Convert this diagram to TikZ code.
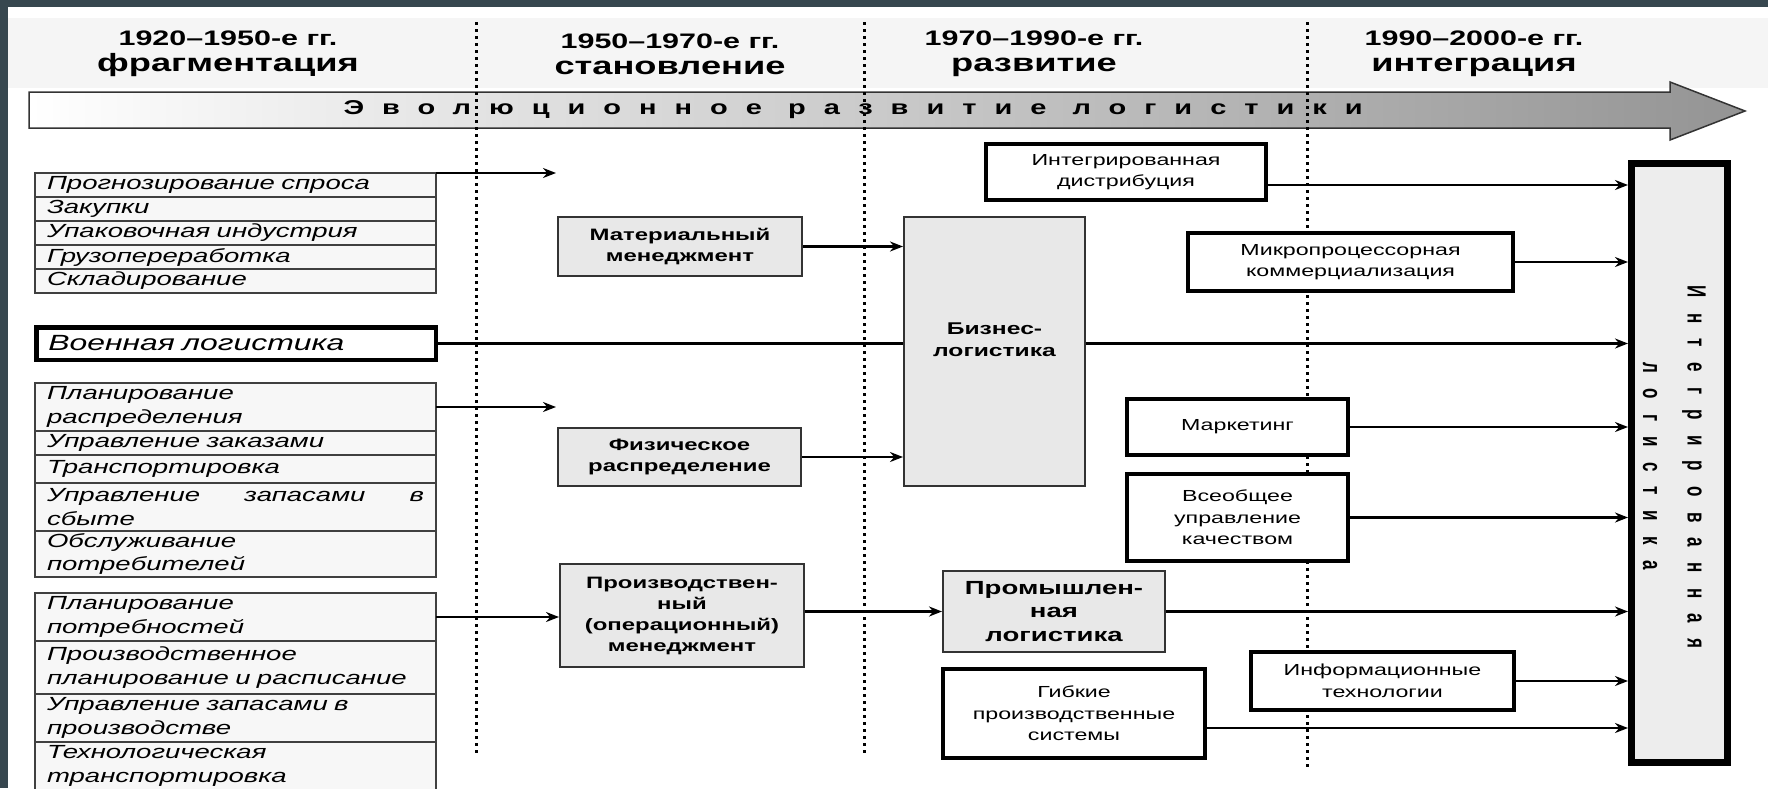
\documentclass[tikz,border=0pt]{standalone}
\usepackage{fontspec}
\setmainfont{Liberation Sans}[FakeStretch=1.45]
\newfontfamily\barfont{Liberation Sans}[FakeStretch=1.45,LetterSpace=90]
\newfontfamily\ilfont{Liberation Sans}[LetterSpace=90]
\usetikzlibrary{positioning,arrows,arrows.meta}
\definecolor{framecol}{HTML}{37474F}

\begin{document}
\begin{tikzpicture}[x=1pt,y=-1pt]
    \tikzstyle{head} = [align=center, font=\fontsize{21}{26}\selectfont\bfseries]
    \tikzstyle{row} = [rectangle, draw=black!75, fill=black!3, line width=1.5pt, outer sep=0pt, text width=377pt, inner xsep=12pt, inner ysep=0pt, minimum height=24pt, align=left, font=\fontsize{19}{23.5}\selectfont\itshape]
    \tikzstyle{gbox} = [rectangle, draw=black!80, fill=black!9, line width=2pt, align=center, font=\fontsize{16.5}{21}\selectfont\bfseries]
    \tikzstyle{wbox} = [rectangle, draw, line width=4pt, fill=white, align=center, font=\fontsize{16}{21.5}\selectfont]
    \tikzstyle{arrow} = [line width=2.5pt, ->, >={Stealth[length=13pt,width=10pt]}]
    \tikzstyle{dots} = [line width=3pt, dash pattern=on 3pt off 4pt]
    \tikzstyle{iltext} = [rotate=-90, font=\ilfont\fontsize{17}{20}\selectfont\bfseries]
    \useasboundingbox (0,0) rectangle (1768,788);
    \fill[white] (0,0) rectangle (1768,788);
    \fill[black!4] (8,18) rectangle (1768,88);
    \fill[framecol] (0,0) rectangle (1768,7);
    \fill[framecol] (0,0) rectangle (8,788);
    % time line
    \shadedraw[left color=white, right color=black!42, draw=black!80, line width=1.5pt] (29,92) -- (1670,92) -- (1670,82) -- (1745,111) -- (1670,140) -- (1670,128) -- (29,128) -- cycle;
    \node (bt) [anchor=west, font=\barfont\fontsize{20}{22}\selectfont\bfseries] at (340,110) {Эволюционное развитие логистики};
    \node (h1) [head] at (228,54) {1920–1950-е гг.\\{\fontsize{25}{26}\selectfont фрагментация}};
    \node (h2) [head] at (670,54) {1950–1970-е гг.\\{\fontsize{25}{26}\selectfont становление}};
    \node (h3) [head] at (1034,54) {1970–1990-е гг.\\{\fontsize{25}{26}\selectfont развитие}};
    \node (h4) [head] at (1474,54) {1990–2000-е гг.\\{\fontsize{25}{26}\selectfont интеграция}};
    \draw[dots] (476,22) -- (476,755);
    \draw[dots] (864,22) -- (864,755);
    \draw[dots] (1307,22) -- (1307,770);
    % left column
    \node (r1) [row, anchor=north west] at (35,173) {Прогнозирование спроса};
    \node (r2) [row, below=0pt of r1] {Закупки};
    \node (r3) [row, below=0pt of r2] {Упаковочная индустрия};
    \node (r4) [row, below=0pt of r3] {Грузопереработка};
    \node (r5) [row, below=0pt of r4] {Складирование};
    \node (vl) [rectangle, draw, line width=4.5pt, fill=white, text width=375.5pt, inner xsep=12pt, inner ysep=0pt, minimum height=32.5pt, align=left, font=\fontsize{22}{26}\selectfont\itshape] at (236,343.5) {Военная логистика};
    \node (p1) [row, minimum height=48pt, anchor=north west] at (35,383) {Планирование\\распределения};
    \node (p2) [row, below=0pt of p1] {Управление заказами};
    \node (p3) [row, minimum height=28pt, below=0pt of p2] {Транспортировка};
    \node (p4) [row, minimum height=48pt, below=0pt of p3] {Управление\hfill запасами\hfill в\\сбыте};
    \node (p5) [row, minimum height=46pt, below=0pt of p4] {Обслуживание\\потребителей};
    \node (q1) [row, minimum height=48pt, anchor=north west] at (35,593) {Планирование\\потребностей};
    \node (q2) [row, minimum height=53pt, below=0pt of q1] {Производственное\\планирование и расписание};
    \node (q3) [row, minimum height=48pt, below=0pt of q2] {Управление запасами в\\производстве};
    \node (q4) [row, minimum height=48pt, below=0pt of q3] {Технологическая\\транспортировка};
    % middle
    \node (mm) [gbox, minimum width=244pt, minimum height=59pt] at (680,246.5) {Материальный\\менеджмент};
    \node (fr) [gbox, minimum width=243pt, minimum height=58pt] at (679.5,457) {Физическое\\распределение};
    \node (pm) [gbox, minimum width=244pt, minimum height=103pt] at (682,615.5) {Производствен-\\ный\\(операционный)\\менеджмент};
    \node (bl) [gbox, minimum width=181pt, minimum height=269pt] at (994.5,351.5) {};
    \node (blt) [align=center, font=\fontsize{17}{22}\selectfont\bfseries] at ([yshift=12pt]bl.center) {Бизнес-\\логистика};
    \node (pl) [gbox, minimum width=222pt, minimum height=81pt, font=\fontsize{19}{23.5}\selectfont\bfseries] at (1054,611.5) {Промышлен-\\ная\\логистика};
    % right
    \node (id) [wbox, minimum width=280pt, minimum height=56pt] at (1126,172) {Интегрированная\\дистрибуция};
    \node (mp) [wbox, minimum width=325pt, minimum height=58pt] at (1350.5,262) {Микропроцессорная\\коммерциализация};
    \node (mk) [wbox, minimum width=221pt, minimum height=56pt] at (1237.5,427) {Маркетинг};
    \node (tq) [wbox, minimum width=221pt, minimum height=87pt, below=15pt of mk] {Всеобщее\\управление\\качеством};
    \node (it) [wbox, minimum width=263pt, minimum height=58pt] at (1382.5,681) {Информационные\\технологии};
    \node (fs) [wbox, minimum width=262pt, minimum height=89pt] at (1074,713.5) {Гибкие\\производственные\\системы};
    \node (il) [rectangle, draw, line width=7pt, fill=black!7, minimum width=96pt, minimum height=599pt] at (1679.5,463) {};
    \node (ilt1) [iltext] at (1694,467) {\scalebox{1}[1.55]{Интегрированная}};
    \node (ilt2) [iltext] at (1650,466) {\scalebox{1}[1.55]{логистика}};
    % connectors
    \coordinate (e1) at (556,173);
    \coordinate (e2) at (556,407);
    \draw[arrow] (r1.north east) -- (e1);
    \draw[arrow] (p1.east) -- (e2);
    \draw[arrow] (q1.east) -- (q1.east -| pm.west);
    \draw[arrow] (mm.east) -- (mm.east -| bl.west);
    \draw[arrow] (fr.east) -- (fr.east -| bl.west);
    \draw[line width=2.5pt] (vl.east) -- (vl.east -| bl.west);
    \draw[arrow] (bl.east |- vl.east) -- (vl.east -| il.west);
    \draw[arrow] (pm.east |- pl.west) -- (pl.west);
    \draw[arrow] (pl.east) -- (pl.east -| il.west);
    \draw[arrow] ([yshift=-13pt]id.east) -- ([yshift=-13pt]id.east -| il.west);
    \draw[arrow] (mp.east) -- (mp.east -| il.west);
    \draw[arrow] (mk.east) -- (mk.east -| il.west);
    \draw[arrow] (tq.east) -- (tq.east -| il.west);
    \draw[arrow] (it.east) -- (it.east -| il.west);
    \draw[arrow] ([yshift=-14.5pt]fs.east) -- ([yshift=-14.5pt]fs.east -| il.west);
\end{tikzpicture}
\end{document}
